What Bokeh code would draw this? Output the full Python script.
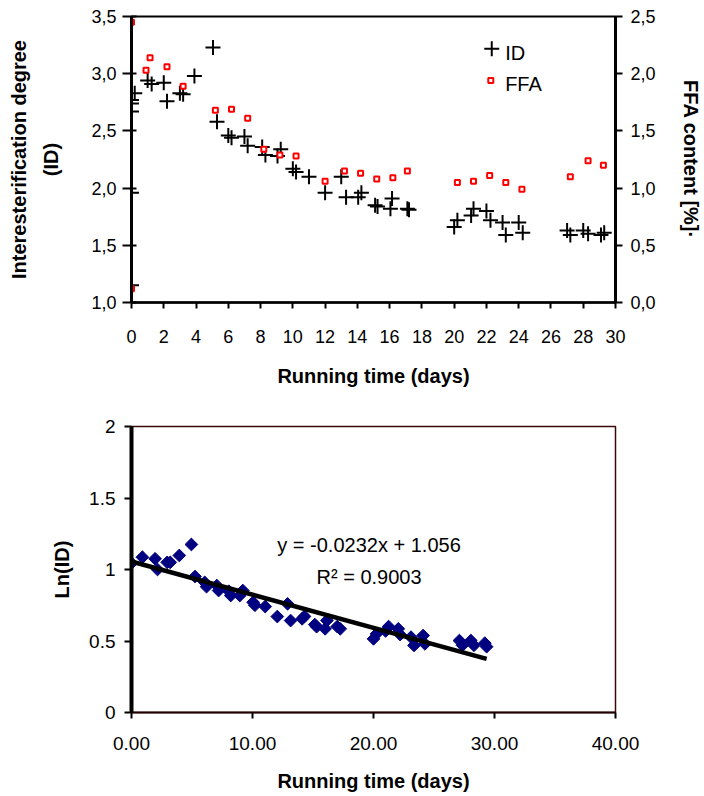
import math
from bokeh.plotting import figure
from bokeh.layouts import column
from bokeh.models import (Range1d, LinearAxis, FixedTicker, CustomJSTickFormatter,
                          Label, NumeralTickFormatter)
from bokeh.embed import file_html
from bokeh.resources import INLINE

FONT = "Liberation Sans"

# ---------------- top chart data ----------------
id_days = [0.2, 0.0, 0.0, 0.0, 0.0, 0.0,
           1.0, 1.25, 2.0, 2.2, 3.0, 3.2, 3.9, 5.05, 5.3, 6.0, 6.2, 7.0, 7.2,
           8.1, 8.3, 9.05, 9.25, 10.0, 10.2, 11.0, 12.0, 13.0, 13.3, 14.05, 14.25,
           15.1, 15.25, 16.05, 16.15, 17.1, 17.2, 20.0, 20.2, 21.05, 21.2, 22.0,
           22.25, 23.0, 23.2, 24.0, 24.25, 27.0, 27.2, 28.0, 28.3, 29.1, 29.3]
id_values = [2.83, 2.77, 2.74, 2.67, 1.96, 1.15,
             2.94, 2.91, 2.92, 2.76, 2.83, 2.82, 2.98, 3.23, 2.58, 2.46, 2.44, 2.45, 2.37,
             2.36, 2.29, 2.28, 2.34, 2.17, 2.14, 2.10, 1.96, 2.10, 1.92, 1.92, 1.96,
             1.85, 1.84, 1.82, 1.91, 1.82, 1.81, 1.66, 1.72, 1.76, 1.82, 1.80,
             1.72, 1.70, 1.59, 1.70, 1.61, 1.63, 1.59, 1.63, 1.60, 1.59, 1.61]

ffa_days = [0.0, 0.0, 0.9, 1.15, 2.2, 3.2, 5.2, 6.2, 7.2, 8.2, 9.2, 10.2, 12.0,
            13.2, 14.2, 15.2, 16.2, 17.1, 20.2, 21.2, 22.2, 23.2, 24.2, 27.2, 28.3, 29.25]
ffa_values = [2.45, 0.12, 2.03, 2.14, 2.06, 1.89, 1.68, 1.69, 1.61, 1.34, 1.29, 1.28, 1.06,
              1.15, 1.13, 1.08, 1.09, 1.15, 1.05, 1.06, 1.11, 1.05, 0.99, 1.10, 1.24, 1.20]

top_x_ticks = list(range(0, 31, 2))
id_ticks = [1.0, 1.5, 2.0, 2.5, 3.0, 3.5]
ffa_ticks = [0.0, 0.5, 1.0, 1.5, 2.0, 2.5]
legend_labels = ["ID", "FFA"]

# ---------------- bottom chart data ----------------
ln_days = [0.0, 0.9, 1.95, 2.15, 2.95, 3.2, 3.95, 4.95, 5.25, 6.05, 6.2, 7.05, 7.2,
           8.05, 8.2, 8.95, 9.2, 10.05, 10.2, 11.05, 12.05, 12.9, 13.15, 14.1, 14.3,
           15.15, 15.3, 16.0, 16.15, 17.0, 17.25, 20.0, 20.25, 21.0, 21.25, 22.05, 22.2,
           23.1, 23.35, 24.1, 24.25, 27.1, 27.35, 28.05, 28.3, 29.2, 29.35]
ln_values = [1.044, 1.086, 1.075, 1.0, 1.05, 1.05, 1.098, 1.175, 0.951, 0.91, 0.88, 0.888, 0.853,
             0.848, 0.818, 0.818, 0.853, 0.771, 0.75, 0.741, 0.671, 0.76, 0.643, 0.655, 0.672,
             0.615, 0.60, 0.585, 0.643, 0.601, 0.585, 0.515, 0.55, 0.57, 0.601, 0.585, 0.545,
             0.527, 0.469, 0.538, 0.48, 0.503, 0.47, 0.503, 0.47, 0.485, 0.46]
trend_slope = -0.0232
trend_intercept = 1.056
r_squared = 0.9003
bottom_x_ticks = [0, 10, 20, 30, 40]
bottom_y_ticks = [0, 0.5, 1, 1.5, 2]

comma_fmt = CustomJSTickFormatter(code="return tick.toFixed(1).replace('.', ',');")


def style_label(ax, size="20px"):
    ax.axis_label_text_font = FONT
    ax.axis_label_text_font_style = "bold"
    ax.axis_label_text_font_size = size
    ax.axis_label_text_color = "black"


def style_ticks(ax, size):
    ax.minor_tick_line_color = None
    ax.major_tick_line_width = 2
    ax.major_tick_line_color = "black"
    ax.major_label_text_font = FONT
    ax.major_label_text_font_size = size
    ax.major_label_text_color = "black"


# ================= TOP FIGURE =================
p1 = figure(width=704, height=400, x_range=Range1d(0, 30), y_range=Range1d(1.0, 3.5),
            output_backend="svg", toolbar_location=None,
            min_border_left=131, min_border_right=87, min_border_top=16, min_border_bottom=98)
p1.grid.visible = False
p1.outline_line_color = "black"
p1.outline_line_width = 2
p1.background_fill_color = "white"
p1.border_fill_color = "white"

p1.extra_y_ranges = {"ffa": Range1d(0.0, 2.5)}

xa = p1.xaxis[0]
xa.ticker = FixedTicker(ticks=top_x_ticks)
style_ticks(xa, "18px")
xa.major_tick_in = 0
xa.major_tick_out = 6
xa.axis_line_width = 2.5
xa.axis_line_color = "black"
xa.major_label_standoff = 21
xa.axis_label = "Running time (days)"
style_label(xa)
xa.axis_label_standoff = 19

ya = p1.yaxis[0]
ya.ticker = FixedTicker(ticks=id_ticks)
ya.formatter = comma_fmt
style_ticks(ya, "18px")
ya.major_tick_in = 5
ya.major_tick_out = 9
ya.axis_line_width = 3
ya.axis_line_color = "black"
ya.major_label_standoff = 6
ya.axis_label = "(ID)"
style_label(ya)
ya.axis_label_standoff = 26

# outer (label-only) left axis for the first title line
ya2 = LinearAxis(ticker=FixedTicker(ticks=[]), axis_line_color=None,
                 major_tick_line_color=None, minor_tick_line_color=None,
                 major_tick_out=0, major_tick_in=0, minor_tick_out=0, minor_tick_in=0)
ya2.axis_label = "Interesterification degree"
style_label(ya2)
ya2.axis_label_standoff = 8
p1.add_layout(ya2, "left")

ra = LinearAxis(y_range_name="ffa", ticker=FixedTicker(ticks=ffa_ticks), formatter=comma_fmt)
style_ticks(ra, "18px")
ra.major_tick_in = 0
ra.major_tick_out = 7
ra.axis_line_width = 3
ra.axis_line_color = "black"
ra.major_label_standoff = 8
ra.axis_label = "FFA content [%]\u00b7"
style_label(ra)
ra.axis_label_standoff = 21
p1.add_layout(ra, "right")

# ID crosses and FFA squares
p1.scatter(id_days, id_values, marker="cross", size=15, line_color="black", line_width=2)
p1.scatter(ffa_days, ffa_values, y_range_name="ffa", marker="square", size=5,
           line_color="#ff0000", fill_color="white", line_width=2)

# legend (manual)
p1.scatter([22.33], [3.218], marker="cross", size=15, line_color="black", line_width=2)
p1.scatter([22.27], [2.94], marker="square", size=5, line_color="#ff0000",
           fill_color="white", line_width=2)
for txt, yy in zip(legend_labels, (3.181, 2.914)):
    p1.add_layout(Label(x=23.16, y=yy, text=txt, text_align="left", text_baseline="middle",
                        text_font=FONT, text_font_size="20px", text_color="black"))

# ================= BOTTOM FIGURE =================
p2 = figure(width=704, height=396, x_range=Range1d(0, 40), y_range=Range1d(0, 2),
            output_backend="svg", toolbar_location=None,
            min_border_left=127, min_border_right=41, min_border_top=26, min_border_bottom=84)
p2.grid.visible = False
p2.outline_line_color = "#3a0a0a"
p2.outline_line_width = 1.5
p2.background_fill_color = "white"
p2.border_fill_color = "white"

bx = p2.xaxis[0]
bx.ticker = FixedTicker(ticks=bottom_x_ticks)
bx.formatter = NumeralTickFormatter(format="0.00")
style_ticks(bx, "19px")
bx.major_tick_in = 0
bx.major_tick_out = 6
bx.axis_line_width = 2
bx.axis_line_color = "#200000"
bx.major_label_standoff = 18
bx.axis_label = "Running time (days)"
style_label(bx)
bx.axis_label_standoff = 17

by = p2.yaxis[0]
by.ticker = FixedTicker(ticks=bottom_y_ticks)
style_ticks(by, "19px")
by.major_tick_in = 0
by.major_tick_out = 7
by.axis_line_width = 4
by.axis_line_color = "black"
by.major_label_standoff = 9
by.axis_label = "Ln(ID)"
style_label(by)
by.axis_label_standoff = 13

p2.scatter(ln_days, ln_values, marker="square", angle=math.pi / 4, size=9,
           fill_color="#000080", line_color="#000080")

x_fit = [min(ln_days), max(ln_days)]
y_fit = [trend_slope * x + trend_intercept for x in x_fit]
p2.line(x_fit, y_fit, line_color="black", line_width=4.5)

eq1 = "y = %.4fx + %.3f" % (trend_slope, trend_intercept)
eq2 = "R\u00b2 = %.4f" % r_squared
for txt, yy in ((eq1, 1.168), (eq2, 0.946)):
    p2.add_layout(Label(x=19.63, y=yy, text=txt, text_align="center", text_baseline="middle",
                        text_font=FONT, text_font_size="20px", text_color="black"))

layout = column(p1, p2, spacing=0)
open("out.html", "w").write(file_html(layout, INLINE))
